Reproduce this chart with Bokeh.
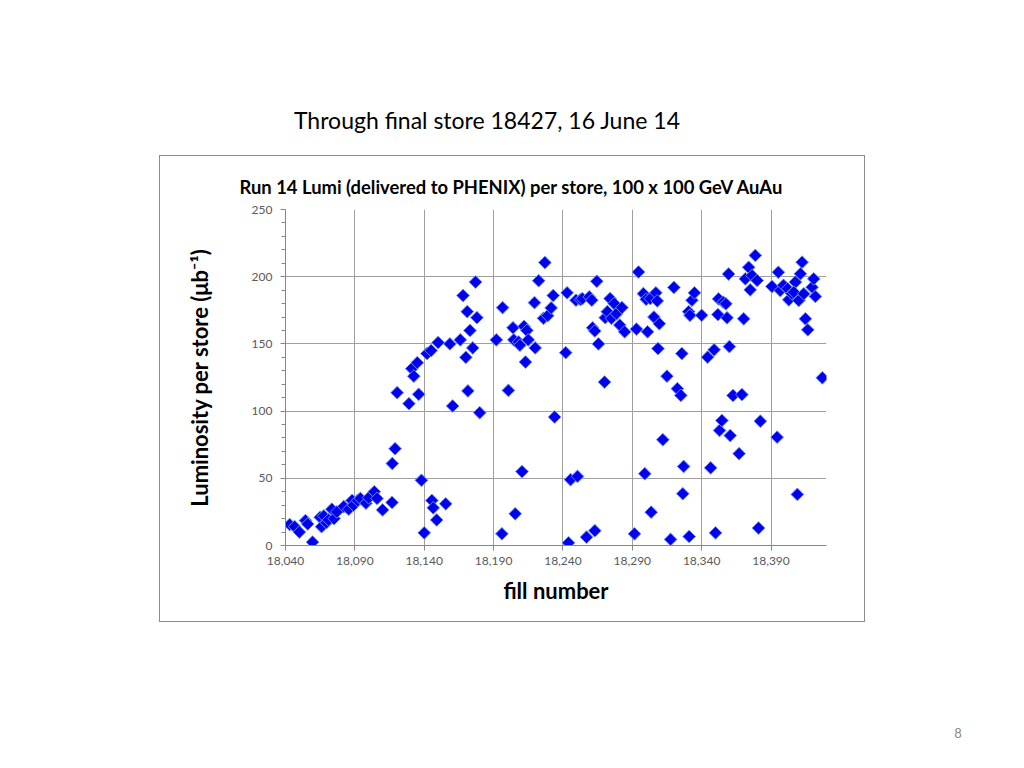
import numpy as np
from bokeh.plotting import figure
from bokeh.layouts import column
from bokeh.models import (ColumnDataSource, FixedTicker, NumeralTickFormatter,
                          Range1d, Div)
from bokeh.embed import file_html
from bokeh.resources import INLINE

# ---- data ----
fill = [18043, 18046.6, 18050, 18054.4, 18056, 18059.5, 18065, 18066, 18067.6, 18069.5,
        18071, 18073.4, 18075, 18077, 18082, 18085.6, 18088, 18089, 18092, 18094,
        18098, 18100, 18104, 18106, 18110, 18116.8, 18117, 18119, 18120.5, 18129,
        18131, 18132.5, 18135, 18136, 18138, 18140, 18142, 18145, 18145.5, 18146.5,
        18149, 18150, 18155.5, 18158.5, 18160.5, 18166, 18168, 18170, 18171, 18171.5,
        18173, 18175, 18177, 18178, 18180, 18192, 18196, 18196.5, 18200.7, 18204,
        18204.6, 18205.6, 18208, 18209, 18210.5, 18212, 18213, 18214, 18215, 18220,
        18219.5, 18222.5, 18226, 18227, 18229, 18231.5, 18233, 18234, 18242, 18243,
        18244, 18245.5, 18250.5, 18249.4, 18252.7, 18254, 18257, 18259, 18260.8, 18261.4,
        18263, 18263, 18264.4, 18265.6, 18270, 18270.5, 18272, 18274, 18275, 18277,
        18278.6, 18281, 18282.5, 18284.5, 18291.6, 18293, 18294.5, 18298, 18299, 18300,
        18301, 18303, 18303.6, 18305.6, 18307, 18308, 18308.5, 18309.5, 18312, 18315,
        18317.6, 18320, 18322.5, 18325, 18325.7, 18326.4, 18327, 18330.6, 18331.6, 18331,
        18333, 18334.8, 18340, 18344.3, 18346.5, 18349, 18350, 18351.7, 18352.9, 18352.2,
        18354.6, 18355.6, 18357.5, 18358.3, 18359.4, 18360, 18360.6, 18362.6, 18367, 18369,
        18370.3, 18371.5, 18373.9, 18375, 18376.3, 18378.7, 18380, 18381, 18382.3, 18390.7,
        18394.4, 18395.3, 18396.7, 18399, 18402, 18402.8, 18405, 18407.6, 18406.4, 18409,
        18410, 18411.2, 18412.4, 18413.6, 18414.8, 18416.5, 18419.6, 18420.8, 18422, 18427]

lumi = [15.6, 14, 10, 18.6, 16, 2.5, 21, 14, 22, 17,
        19, 27, 20, 25, 29, 27, 33.5, 30, 33.5, 35,
        31.5, 35.5, 40, 35, 26.5, 32, 61, 72, 113.7, 105.5,
        131.6, 126, 136, 112.5, 48.5, 9.4, 142.8, 145, 33.5, 28,
        19, 151, 31, 150, 103.8, 153, 186, 140, 174, 115,
        160, 147, 196, 169.5, 98.8, 153, 8.7, 177, 115.4, 162,
        153, 23.6, 151.4, 149, 55, 163, 136.5, 160, 153, 147,
        180.7, 197, 169, 210.5, 171, 176.8, 186, 95.6, 143.5, 188,
        2, 49, 51.4, 182.5, 183, 183.7, 6.2, 185, 182.5, 162,
        159.6, 11, 196.6, 150, 121.6, 169.5, 174, 183.7, 169, 180,
        172.5, 164, 177, 159, 8.7, 161, 203.5, 187.4, 53.4, 183.2,
        159, 183.7, 24.8, 170, 188, 182, 146.5, 165, 78.7, 126,
        4.5, 192, 116.7, 111.7, 142.8, 38.5, 58.8, 174, 171.3, 6.7,
        182.5, 188, 171.3, 140.1, 57.8, 145.6, 9.4, 171.8, 85.6, 183.5,
        93, 181, 179.8, 169.4, 202, 148, 81.8, 111.6, 68.3, 112.3,
        168.7, 198.4, 207, 190.2, 200.9, 215.8, 197.2, 13, 92.5, 192.7,
        80.6, 203.3, 189.7, 193.6, 191, 182.8, 187.4, 196, 188.5, 38,
        182.3, 202.2, 210.8, 187.3, 168.7, 160.5, 192.2, 198.4, 185.3, 124.8]

x_ticks = [18040, 18090, 18140, 18190, 18240, 18290, 18340, 18390]
y_ticks = [0, 50, 100, 150, 200, 250]
y_minor = [10, 20, 30, 40, 60, 70, 80, 90, 110, 120, 130, 140, 160, 170, 180, 190,
           210, 220, 230, 240]

page_title = "Through final store 18427, 16 June 14"
chart_title = "Run 14 Lumi (delivered to PHENIX) per store, 100 x 100 GeV AuAu"
y_label = "Luminosity per store (\u03bcb\u207b\u00b9)"
x_label = "fill number"
page_number = "8"

FONT = "Lato"

# chart box (page px): 160..864 x 156..621 ; frame: 285..826 x 209..545
BOX_L, BOX_T, BOX_W, BOX_H = 160, 156, 704, 465
FL, FR, FT, FB = 285, 826, 209, 545

p = figure(width=BOX_W, height=BOX_H, output_backend="svg", toolbar_location=None,
           x_range=Range1d(18040, 18430), y_range=Range1d(0, 250),
           min_border_left=FL - BOX_L, min_border_right=BOX_L + BOX_W - FR,
           min_border_top=FT - BOX_T, min_border_bottom=BOX_T + BOX_H - FB,
           title=chart_title)
p.margin = (0, 0, 0, BOX_L)
p.styles = {"outline": "1px solid #8c8c8c"}
p.outline_line_color = None
p.background_fill_color = "white"
p.border_fill_color = "white"

p.title.text_font = FONT
p.title.text_font_size = "18.4px"
p.title.text_font_style = "bold"
p.title.text_color = "#000000"
p.title.align = "left"
p.title.offset = -46
p.title.standoff = 24

src = ColumnDataSource(dict(x=fill, y=lumi))
p.scatter("x", "y", source=src, marker="square", angle=np.pi / 4, size=9,
          fill_color="#0000f0", line_color="#6a8cf0", line_width=1)

for ax in (p.xaxis[0], p.yaxis[0]):
    ax.axis_line_color = "#868686"
    ax.major_tick_line_color = "#868686"
    ax.minor_tick_line_color = "#868686"
    ax.major_label_text_font = FONT
    ax.major_label_text_font_size = "12px"
    ax.major_label_text_color = "#595959"
    ax.axis_label_text_font = FONT
    ax.axis_label_text_font_style = "bold"
    ax.axis_label_text_color = "#000000"

p.xaxis.ticker = FixedTicker(ticks=x_ticks)
p.xaxis.formatter = NumeralTickFormatter(format="0,0")
p.xaxis.major_tick_out = 5
p.xaxis.major_tick_in = 0
p.xaxis.minor_tick_out = 0
p.xaxis.major_label_standoff = 6
p.xaxis.axis_label = x_label
p.xaxis.axis_label_text_font_size = "22px"
p.xaxis.axis_label_standoff = 9

p.yaxis.ticker = FixedTicker(ticks=y_ticks, minor_ticks=y_minor)
p.yaxis.major_tick_out = 5
p.yaxis.major_tick_in = 0
p.yaxis.minor_tick_out = 4
p.yaxis.minor_tick_in = 0
p.yaxis.major_label_standoff = 8
p.yaxis.axis_label = y_label
p.yaxis.axis_label_text_font_size = "22px"
p.yaxis.axis_label_standoff = 36

p.xgrid.ticker = FixedTicker(ticks=x_ticks)
p.ygrid.ticker = FixedTicker(ticks=y_ticks)
p.grid.grid_line_color = "#a0a0a0"
p.grid.grid_line_width = 1

title_div = Div(
    text=(f'<div style="width:964px; text-align:center; margin-top:101px; '
          f'font-family:{FONT}; font-size:23px; line-height:28px; color:#000; '
          f'white-space:nowrap;">{page_title}</div>'),
    width=1000, height=BOX_T - 10)
num_div = Div(
    text=(f'<div style="margin-left:945px; width:16px; text-align:center; margin-top:99px; '
          f'font-family:{FONT}; font-size:13px; line-height:16px; color:#8a8a8a;">'
          f'{page_number}</div>'),
    width=1000, height=130)

layout = column(title_div, p, num_div, spacing=0)
open("out.html", "w").write(file_html(layout, INLINE))
